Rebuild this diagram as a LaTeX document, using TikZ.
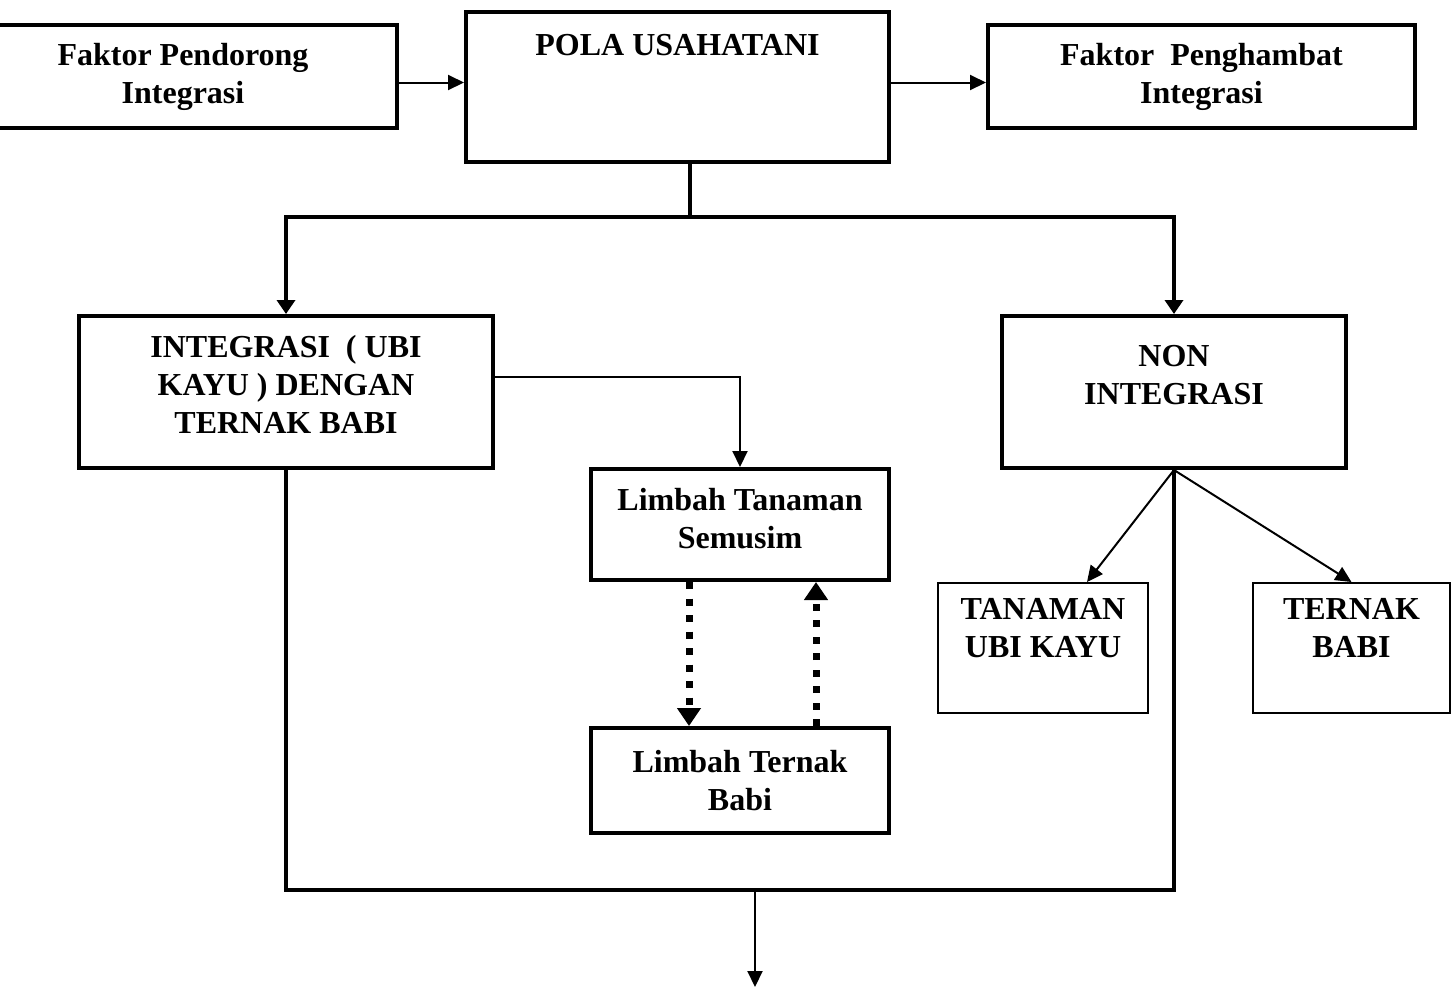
\documentclass[tikz,border=0pt]{standalone}
\usepackage{fontspec}
\setmainfont{Liberation Serif}
\usetikzlibrary{arrows.meta}

\begin{document}
\begin{tikzpicture}[
		x=0.5pt, y=-0.5pt,
		font=\fontsize{16}{19}\selectfont\bfseries,
		box/.style={draw, line width=2pt, align=center, inner sep=0pt},
		thinbox/.style={draw, line width=1pt, align=center, inner sep=0pt},
		link/.style={line width=1pt, -{Triangle[length=8pt,width=7.5pt]}},
		branch/.style={line width=2pt},
		branchtip/.style={branch, -{Triangle[length=7pt,width=9pt]}},
		waste/.style={line width=3.5pt, dash pattern=on 3.5pt off 4.75pt, -{Triangle[length=9pt,width=11.5pt]}}
	]
		\useasboundingbox (0,0) rectangle (1453,987);

		\node[box, minimum width=214pt, minimum height=51.5pt] (pendorong) at (183,76.5) {Faktor Pendorong\\Integrasi};
		\node[box, minimum width=211.5pt, minimum height=75pt, text depth=42pt] (pola) at (677.5,87) {POLA USAHATANI};
		\node[box, minimum width=213.5pt, minimum height=51.5pt] (penghambat) at (1201.5,76.5) {Faktor\ \ Penghambat\\Integrasi};

		\node[box, minimum width=207pt, minimum height=76pt, text depth=7.5pt] (integ) at (286,392) {INTEGRASI\ \ ( UBI\\KAYU ) DENGAN\\TERNAK BABI};
		\node[box, minimum width=172pt, minimum height=76pt, text depth=17pt] (non) at (1174,392) {NON\\INTEGRASI};

		\node[box, minimum width=149pt, minimum height=55.5pt, text depth=6pt] (tanamanlimbah) at (740,524.5) {Limbah Tanaman\\Semusim};
		\node[box, minimum width=149pt, minimum height=52.5pt] (ternaklimbah) at (740,780.5) {Limbah Ternak\\Babi};

		\node[thinbox, minimum width=105pt, minimum height=65pt, text depth=20pt] (ubikayu) at (1043,648) {TANAMAN\\UBI KAYU};
		\node[thinbox, minimum width=98.5pt, minimum height=65pt, text depth=20pt] (babi) at (1351.5,648) {TERNAK\\BABI};

		\coordinate (split) at (690,217);
		\coordinate (join) at (755,890);
		\coordinate (hasil) at (755,987);

		\draw[link] ([yshift=-3pt]pendorong.east) -- ([yshift=-3pt]pendorong.east -| pola.west);
		\draw[link] ([yshift=-3pt]penghambat.west -| pola.east) -- ([yshift=-3pt]penghambat.west);

		\draw[branch] (pola.south -| split) -- (split);
		\draw[branchtip] (split) -| (integ.north);
		\draw[branchtip] (split) -| (non.north);

		\draw[link] ([yshift=7.5pt]integ.east) -| (tanamanlimbah.north);
		\draw[waste] ([xshift=-25.5pt]tanamanlimbah.south) -- ([xshift=-25.5pt]ternaklimbah.north);
		\draw[waste] ([xshift=38pt]ternaklimbah.north) -- ([xshift=38pt]tanamanlimbah.south);

		\draw[link] (non.south) -- ([xshift=22pt]ubikayu.north);
		\draw[link] (non.south) -- (babi.north);

		\draw[branch] (integ.south) -- (integ.south |- join) -- (non.south |- join) -- (non.south);
		\draw[link] (join) -- (hasil);
	\end{tikzpicture}
\end{document}
